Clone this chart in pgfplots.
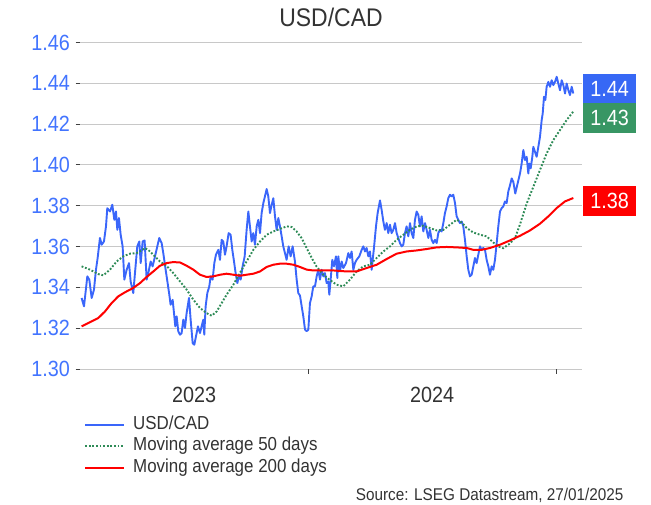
\documentclass[border=0pt]{standalone}
\usepackage{fontspec}
\setmainfont{Liberation Sans}[FakeStretch=0.9]
\usepackage{pgfplots}
\pgfplotsset{compat=1.18}
\definecolor{fxblue}{RGB}{58,102,250}
\definecolor{tickblue}{RGB}{66,116,255}
\definecolor{magreen}{RGB}{46,139,87}
\definecolor{boxgreen}{RGB}{56,150,100}
\definecolor{boxblue}{RGB}{55,104,245}
\definecolor{txtgray}{RGB}{51,51,51}
\definecolor{gridgray}{RGB}{200,200,200}

\begin{document}
\begin{tikzpicture}[x=1pt,y=1pt]
\useasboundingbox (0,0) rectangle (651,-505);
\node[txtgray, font=\fontsize{25.5}{30}\selectfont] at (331,-17.5) {USD/CAD};
\begin{axis}[
    at={(80pt,-369pt)}, anchor=south west,
    scale only axis, width=502pt, height=326.5pt,
    xmin=28.6, xmax=768.2,
    ymin=1.30, ymax=1.46,
    clip=false,
    axis line style={draw=none},
    tick pos=left, tick align=outside,
    major tick length=4.5pt,
    tick style={black!75, line width=0.9pt},
    ytick={1.30,1.32,1.34,1.36,1.38,1.40,1.42,1.44,1.46},
    yticklabel style={tickblue, font=\fontsize{22}{26}\selectfont,
        /pgf/number format/fixed, /pgf/number format/precision=2,
        /pgf/number format/fixed zerofill, xshift=-2pt},
    /pgf/number format/assume math mode=true,
    ymajorgrids, grid style={gridgray, line width=1pt},
    xtick={365,730}, xticklabels={},
    extra x ticks={196.8,547.5},
    extra x tick labels={2023,2024},
    extra x tick style={major tick length=0pt,
        xticklabel style={txtgray, font=\fontsize{22}{26}\selectfont, yshift=-15pt}},
    legend style={at={(0.008,-0.137)}, anchor=north west, draw=none, fill=none,
        font=\fontsize{18.8}{22}\selectfont, text=txtgray, row sep=0pt,
        inner sep=0pt, nodes={inner sep=2pt, text height=13.5pt, text depth=4pt},
        cells={anchor=west}},
    legend image code/.code={\draw[#1] (0pt,0pt) -- (39pt,0pt); \path (45pt,0pt);},
]
\addplot[fxblue, line width=1.9pt, line join=round] coordinates {
(31.0,1.3348) (34.5,1.3307) (39.4,1.3454) (42.3,1.3438) (45.8,1.3348) (49.2,1.3389) (52.1,1.3486) (54.6,1.3544) (58.0,1.3642) (60.5,1.3609) (63.9,1.3625) (66.9,1.3699) (68.8,1.3788) (72.8,1.3772) (76.2,1.3805) (79.2,1.3731) (81.6,1.3772) (83.6,1.3682) (86.0,1.3740) (88.5,1.3658) (91.4,1.3601) (93.9,1.3438) (97.3,1.3486) (100.8,1.3519) (103.2,1.3429) (107.1,1.3372) (109.6,1.3470) (113.0,1.3601) (116.0,1.3625) (118.0,1.3519) (120.9,1.3625) (123.8,1.3630) (126.8,1.3438) (129.2,1.3470) (132.7,1.3527) (135.6,1.3503) (139.1,1.3552) (142.5,1.3601) (145.4,1.3642) (148.9,1.3617) (151.3,1.3568) (154.8,1.3486) (157.7,1.3421) (160.2,1.3364) (162.1,1.3315) (165.1,1.3339) (167.1,1.3274) (169.0,1.3209) (171.0,1.3258) (173.4,1.3185) (175.9,1.3168) (178.3,1.3176) (180.8,1.3242) (183.3,1.3201) (185.7,1.3274) (189.2,1.3348) (191.6,1.3242) (194.6,1.3127) (197.0,1.3119) (199.5,1.3160) (202.4,1.3209) (205.4,1.3176) (207.8,1.3209) (210.3,1.3242) (211.7,1.3168) (213.7,1.3307) (216.2,1.3372) (219.1,1.3405) (221.1,1.3454) (224.0,1.3438) (226.5,1.3519) (228.9,1.3560) (232.4,1.3584) (234.8,1.3535) (237.3,1.3633) (239.7,1.3625) (242.2,1.3560) (244.6,1.3601) (247.6,1.3666) (250.5,1.3658) (253.0,1.3584) (255.5,1.3527) (257.9,1.3470) (260.4,1.3421) (263.3,1.3462) (265.3,1.3438) (268.2,1.3503) (271.2,1.3552) (274.1,1.3682) (276.6,1.3772) (279.0,1.3699) (281.5,1.3625) (283.9,1.3666) (286.4,1.3609) (288.9,1.3699) (291.3,1.3731) (293.8,1.3666) (296.2,1.3764) (298.7,1.3813) (301.1,1.3846) (303.6,1.3882) (306.0,1.3846) (308.5,1.3764) (311.0,1.3805) (313.4,1.3837) (315.9,1.3748) (318.3,1.3682) (320.8,1.3740) (323.2,1.3699) (325.7,1.3650) (328.1,1.3601) (330.6,1.3568) (333.0,1.3535) (336.0,1.3601) (338.9,1.3552) (341.9,1.3601) (345.3,1.3527) (347.8,1.3438) (350.2,1.3372) (352.7,1.3360) (355.2,1.3307) (357.6,1.3258) (360.1,1.3193) (362.5,1.3185) (365.0,1.3193) (367.4,1.3323) (369.9,1.3356) (372.3,1.3405) (374.8,1.3405) (377.3,1.3454) (379.7,1.3486) (382.2,1.3438) (384.6,1.3486) (387.1,1.3454) (389.5,1.3470) (392.0,1.3421) (394.4,1.3429) (395.9,1.3364) (397.9,1.3438) (400.3,1.3535) (402.8,1.3503) (405.7,1.3552) (407.7,1.3446) (409.2,1.3552) (411.6,1.3478) (414.1,1.3527) (416.5,1.3495) (420.5,1.3519) (423.9,1.3568) (426.4,1.3544) (428.8,1.3576) (431.3,1.3486) (433.7,1.3519) (436.2,1.3535) (440.1,1.3552) (443.6,1.3584) (446.0,1.3601) (448.5,1.3576) (450.9,1.3593) (453.4,1.3552) (455.8,1.3576) (458.3,1.3486) (459.8,1.3535) (461.7,1.3593) (464.7,1.3699) (467.1,1.3764) (470.6,1.3826) (473.0,1.3780) (475.5,1.3723) (477.9,1.3682) (480.4,1.3715) (482.8,1.3666) (485.3,1.3707) (487.7,1.3666) (490.2,1.3682) (492.7,1.3715) (495.1,1.3666) (497.6,1.3642) (500.0,1.3617) (502.5,1.3601) (504.9,1.3609) (507.4,1.3666) (509.8,1.3699) (512.3,1.3650) (514.8,1.3715) (517.2,1.3666) (519.7,1.3642) (522.1,1.3731) (524.6,1.3772) (527.0,1.3756) (529.5,1.3699) (531.9,1.3748) (534.4,1.3674) (536.9,1.3715) (539.3,1.3682) (541.8,1.3642) (544.2,1.3682) (546.7,1.3633) (549.1,1.3617) (551.6,1.3633) (554.1,1.3617) (556.5,1.3666) (559.0,1.3682) (561.4,1.3674) (563.9,1.3715) (566.3,1.3764) (568.8,1.3797) (571.2,1.3837) (573.7,1.3854) (576.1,1.3846) (578.6,1.3854) (581.1,1.3813) (583.5,1.3748) (586.0,1.3731) (588.4,1.3715) (590.9,1.3723) (593.3,1.3699) (595.8,1.3633) (598.3,1.3552) (600.7,1.3486) (603.2,1.3454) (605.6,1.3462) (608.1,1.3503) (610.5,1.3544) (613.0,1.3519) (615.4,1.3560) (617.9,1.3601) (620.3,1.3584) (622.8,1.3593) (625.3,1.3584) (627.7,1.3535) (630.2,1.3503) (632.6,1.3462) (635.1,1.3503) (637.5,1.3486) (640.0,1.3535) (642.5,1.3617) (644.9,1.3699) (647.4,1.3772) (649.8,1.3788) (652.3,1.3797) (654.7,1.3821) (657.2,1.3813) (659.6,1.3870) (662.1,1.3900) (664.6,1.3934) (667.0,1.3917) (669.9,1.3860) (673.9,1.3917) (677.0,1.3960) (679.3,1.4007) (681.8,1.4073) (684.2,1.4024) (686.7,1.4040) (689.1,1.3958) (690.6,1.4007) (692.6,1.3983) (695.0,1.4040) (696.5,1.4089) (699.0,1.4064) (701.4,1.4040) (703.9,1.4089) (706.3,1.4138) (708.8,1.4220) (710.3,1.4252) (712.2,1.4334) (714.2,1.4318) (716.1,1.4383) (718.6,1.4407) (721.1,1.4383) (723.5,1.4415) (726.0,1.4391) (728.4,1.4407) (730.9,1.4432) (733.3,1.4399) (735.8,1.4366) (738.3,1.4415) (740.7,1.4391) (743.2,1.4350) (745.6,1.4399) (748.1,1.4366) (750.5,1.4342) (753.0,1.4383) (755.4,1.4350)
};
\addlegendentry{USD/CAD}
\addplot[magreen, line width=1.9pt, dash pattern=on 1.8pt off 1.8pt] coordinates {
(31.0,1.3503) (43.3,1.3487) (55.6,1.3465) (63.0,1.3459) (72.8,1.3487) (82.6,1.3527) (92.4,1.3552) (102.0,1.3565) (112.0,1.3568) (119.4,1.3581) (124.3,1.3593) (129.0,1.3584) (136.6,1.3560) (146.4,1.3527) (156.0,1.3506) (166.0,1.3470) (176.0,1.3429) (185.7,1.3389) (195.5,1.3340) (205.4,1.3299) (215.0,1.3274) (222.5,1.3261) (230.0,1.3282) (237.3,1.3323) (244.6,1.3364) (254.5,1.3413) (264.0,1.3470) (274.0,1.3527) (284.0,1.3584) (293.8,1.3625) (303.6,1.3658) (313.4,1.3674) (323.0,1.3686) (333.0,1.3699) (340.4,1.3696) (347.8,1.3674) (355.0,1.3642) (362.5,1.3593) (370.0,1.3544) (377.0,1.3503) (387.0,1.3462) (396.0,1.3438) (406.7,1.3413) (416.5,1.3405) (426.4,1.3438) (436.0,1.3478) (446.0,1.3503) (455.8,1.3511) (465.6,1.3544) (475.5,1.3576) (485.0,1.3600) (495.0,1.3633) (505.0,1.3658) (514.8,1.3682) (524.6,1.3699) (534.4,1.3702) (544.0,1.3691) (554.0,1.3679) (564.0,1.3682) (573.7,1.3707) (583.5,1.3731) (591.0,1.3718) (598.3,1.3691) (608.0,1.3669) (618.0,1.3658) (627.7,1.3650) (637.5,1.3620) (645.0,1.3600) (652.3,1.3592) (662.0,1.3615) (669.5,1.3642) (677.0,1.3710) (686.7,1.3811) (696.5,1.3893) (706.3,1.3975) (716.0,1.4056) (726.0,1.4122) (735.8,1.4171) (745.6,1.4220) (755.4,1.4262)
};
\addlegendentry{Moving average 50 days}
\addplot[red, line width=2pt, line join=round] coordinates {
(31.0,1.3209) (43.0,1.3229) (55.6,1.3250) (65.4,1.3282) (75.2,1.3323) (85.0,1.3356) (94.9,1.3376) (107.0,1.3397) (117.0,1.3421) (126.8,1.3451) (136.6,1.3478) (146.4,1.3506) (156.3,1.3519) (166.0,1.3524) (176.0,1.3522) (185.7,1.3506) (195.5,1.3487) (205.4,1.3462) (215.0,1.3451) (225.0,1.3454) (235.0,1.3462) (244.6,1.3467) (254.5,1.3462) (264.3,1.3457) (274.0,1.3462) (284.0,1.3467) (293.8,1.3478) (303.6,1.3500) (313.4,1.3511) (323.0,1.3516) (333.0,1.3516) (343.0,1.3511) (352.7,1.3500) (362.5,1.3487) (372.0,1.3483) (382.0,1.3483) (401.8,1.3483) (421.5,1.3478) (436.0,1.3478) (451.0,1.3495) (465.7,1.3511) (480.4,1.3539) (495.0,1.3565) (509.9,1.3576) (524.6,1.3581) (539.3,1.3588) (554.0,1.3596) (568.8,1.3598) (583.5,1.3596) (598.3,1.3593) (608.0,1.3584) (620.3,1.3584) (632.6,1.3593) (647.4,1.3609) (662.0,1.3630) (677.0,1.3653) (691.6,1.3679) (706.3,1.3712) (718.6,1.3748) (731.0,1.3789) (743.0,1.3821) (755.4,1.3838)
};
\addlegendentry{Moving average 200 days}
\node[fill=boxblue, text=white, minimum width=53pt, minimum height=29.5pt, inner sep=0pt,
      anchor=west, xshift=1pt, font=\fontsize{22}{26}\selectfont] at (axis cs:768.2,1.43746) {1.44};
\node[fill=boxgreen, text=white, minimum width=53pt, minimum height=29.5pt, inner sep=0pt,
      anchor=west, xshift=1pt, font=\fontsize{22}{26}\selectfont] at (axis cs:768.2,1.42300) {1.43};
\node[fill=red, text=white, minimum width=53pt, minimum height=29.5pt, inner sep=0pt,
      anchor=west, xshift=1pt, font=\fontsize{22}{26}\selectfont] at (axis cs:768.2,1.38233) {1.38};
\end{axis}
\node[anchor=east, txtgray, font=\fontsize{17}{20}\selectfont] at (627,-495) {Source: LSEG Datastream, 27/01/2025};
\end{tikzpicture}
\end{document}
